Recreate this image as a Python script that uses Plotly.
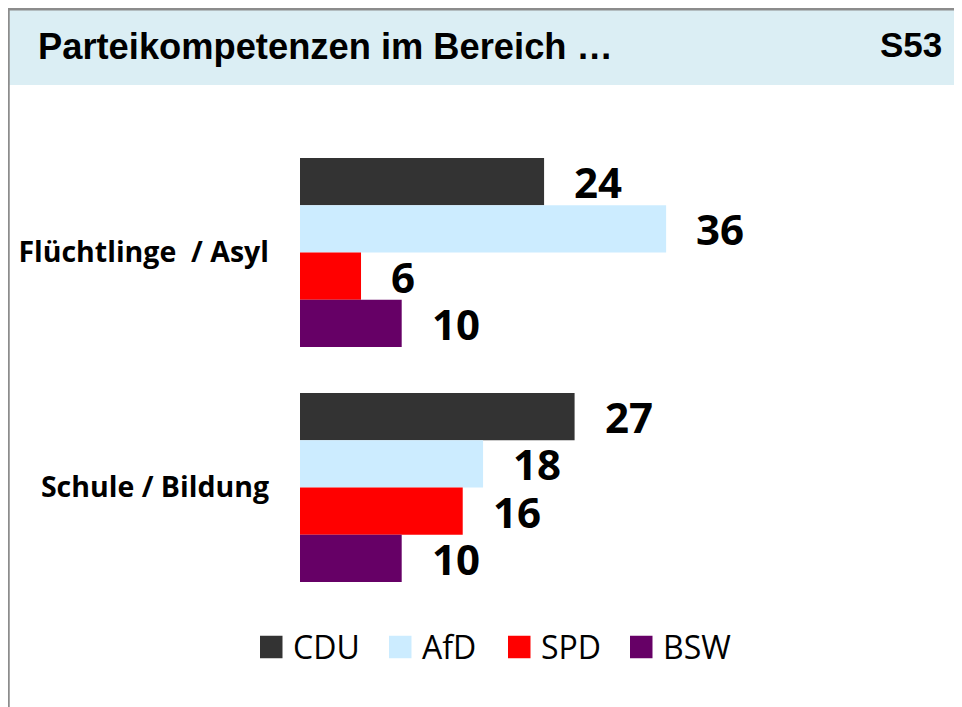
import plotly.graph_objects as go

# ---- data ----
categories = ["Flüchtlinge\u00a0 / Asyl", "Schule / Bildung"]
parties = ["CDU", "AfD", "SPD", "BSW"]
cdu = [24, 27]
afd = [36, 18]
spd = [6, 16]
bsw = [10, 10]
series = [cdu, afd, spd, bsw]
colors = ["#333333", "#CCECFF", "#FF0000", "#660066"]
title_text = "Parteikompetenzen im Bereich …"
code_text = "S53"

# ---- layout geometry (page has an 8px body margin) ----
OFF = 8
W, H = 962 - OFF, 707 - OFF
L, T = 300 - OFF, 135 - OFF
PW, PH = 661, 470
R = W - L - PW
B = H - T - PH
BARGAP = 0.196


def px2x(px):
    """reference page pixel x -> paper coordinate"""
    return (px - OFF - L) / PW


def py2y(py):
    """reference page pixel y -> paper coordinate"""
    return 1 - (py - OFF - T) / PH


fig = go.Figure()
ypos = list(range(len(categories)))
for name, vals, col in zip(parties, series, colors):
    fig.add_trace(go.Bar(
        y=ypos, x=vals, name=name, orientation="h",
        marker=dict(color=col, line=dict(width=0)),
        showlegend=False, hoverinfo="skip",
    ))

# value labels
n = len(parties)
bw = (1 - BARGAP) / n
annotations = []
for i, vals in enumerate(series):
    off = -(1 - BARGAP) / 2 + bw * (i + 0.5)
    for ci, v in enumerate(vals):
        annotations.append(dict(
            x=v, y=ci + off, xref="x", yref="y", text=str(v),
            showarrow=False, xanchor="left", yanchor="middle", xshift=28, yshift=0,
            font=dict(family="Open Sans", size=42, color="#000000", weight="bold"),
        ))

# header texts
annotations.append(dict(
    x=px2x(36), y=py2y(47), xref="paper", yref="paper", text=title_text,
    showarrow=False, xanchor="left", yanchor="middle",
    font=dict(family="Liberation Sans", size=36.3, color="#000000", weight="bold"),
))
annotations.append(dict(
    x=px2x(944), y=py2y(44), xref="paper", yref="paper", text=code_text,
    showarrow=False, xanchor="right", yanchor="middle",
    font=dict(family="Liberation Sans", size=35, color="#000000", weight="bold"),
))

shapes = [
    # header band
    dict(type="rect", xref="paper", yref="paper", x0=px2x(8), x1=px2x(975),
         y0=py2y(85), y1=py2y(9), fillcolor="#DBEEF4", line=dict(width=0), layer="below"),
    # top border
    dict(type="line", xref="paper", yref="paper", x0=px2x(6), x1=px2x(975),
         y0=py2y(9), y1=py2y(9), line=dict(color="#8C8C8C", width=3)),
    # left border
    dict(type="line", xref="paper", yref="paper", x0=px2x(8.5), x1=px2x(8.5),
         y0=py2y(8), y1=py2y(720), line=dict(color="#8C8C8C", width=2.5)),
]

# manual legend (large square swatches)
legend_x = [260, 389, 508, 630]
legend_cy = 647
sq = 22.5
for name, col, lx in zip(parties, colors, legend_x):
    shapes.append(dict(type="rect", xref="paper", yref="paper",
                       x0=px2x(lx), x1=px2x(lx + sq),
                       y0=py2y(legend_cy + sq / 2), y1=py2y(legend_cy - sq / 2),
                       fillcolor=col, line=dict(width=0)))
    annotations.append(dict(
        x=px2x(lx + sq + 8), y=py2y(legend_cy - 1), xref="paper", yref="paper", text=name,
        showarrow=False, xanchor="left", yanchor="middle",
        font=dict(family="Open Sans", size=32, color="#000000"),
    ))

fig.update_layout(
    width=W, height=H,
    margin=dict(l=L, r=R, t=T, b=B, pad=0),
    paper_bgcolor="#FFFFFF", plot_bgcolor="#FFFFFF",
    barmode="group", bargap=BARGAP, bargroupgap=0,
    showlegend=False,
    xaxis=dict(range=[0, PW / 10.17], visible=False, fixedrange=True),
    yaxis=dict(
        range=[len(categories) - 0.5, -0.5],
        tickvals=ypos, ticktext=categories,
        showgrid=False, zeroline=False, showline=False, ticks="",
        ticklabelstandoff=30,
        tickfont=dict(family="Open Sans", size=28.5, color="#000000", weight="bold"),
        fixedrange=True,
    ),
    annotations=annotations,
    shapes=shapes,
)

fig.write_html("out.html", config={"displayModeBar": False})
